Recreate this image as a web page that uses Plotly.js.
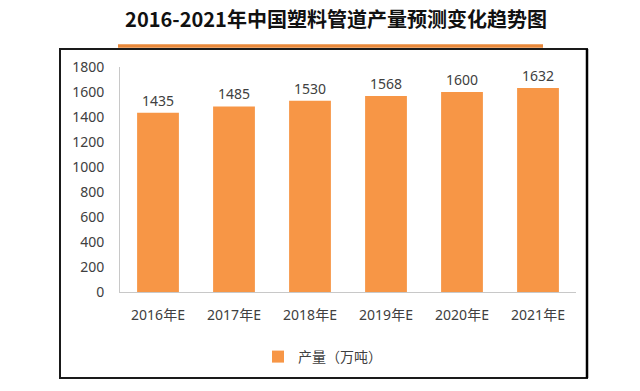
<!DOCTYPE html>
<html>
<head>
<meta charset="utf-8">
<script src="https://cdn.plot.ly/plotly-3.0.1.min.js"></script>
<style>html,body{margin:0;padding:0;background:#fff;overflow:hidden;}#chart{width:640px;height:391px;}</style>
</head>
<body>
<div id="chart"></div>
<script>
var categories = ["2016年E", "2017年E", "2018年E", "2019年E", "2020年E", "2021年E"];
var output = [1435, 1485, 1530, 1568, 1600, 1632];
var seriesName = "产量（万吨）";
var yTicks = [0, 200, 400, 600, 800, 1000, 1200, 1400, 1600, 1800];

var FONT = "Noto Sans, Noto Sans CJK SC, sans-serif";
var TXT = "#404040";

var trace = {
  type: "bar",
  x: categories,
  y: output,
  name: seriesName,
  marker: {color: "#F79646"},
  text: output.map(String),
  textposition: "outside",
  textfont: {family: FONT, size: 14, color: TXT},
  cliponaxis: false,
  hoverinfo: "none"
};

var bx0 = (60-120)/456, bx1 = (587-120)/456, by0 = (292-378)/225, by1 = (292-49)/225;

var layout = {
  width: 640, height: 391,
  margin: {l: 120, r: 64, t: 67, b: 99, pad: 0},
  paper_bgcolor: "#ffffff", plot_bgcolor: "#ffffff",
  font: {family: FONT, size: 14, color: TXT},
  bargap: 0.45,
  showlegend: true,
  title: {
    text: "<b>2016-2021年中国塑料管道产量预测变化趋势图</b>",
    font: {family: "Noto Sans CJK SC, sans-serif", size: 20, color: "#111111"},
    x: 336/640, xanchor: "center", xref: "container",
    y: 1 - 20/391, yanchor: "middle", yref: "container"
  },
  xaxis: {
    type: "category",
    showgrid: false, zeroline: false,
    showline: true, linecolor: "#c8c8c8", linewidth: 1,
    ticks: "", ticklabelstandoff: 10,
    tickfont: {family: FONT, size: 14, color: TXT}
  },
  yaxis: {
    range: [0, 1800],
    tickvals: yTicks,
    ticktext: yTicks.map(String),
    showgrid: false, zeroline: false,
    showline: true, linecolor: "#c8c8c8", linewidth: 1,
    ticks: "", ticklabelstandoff: 12,
    tickfont: {family: FONT, size: 14, color: TXT}
  },
  legend: {
    orientation: "h",
    x: (258-120)/456, xanchor: "left",
    y: (292-357)/225, yanchor: "middle",
    font: {family: "Noto Sans CJK SC, sans-serif", size: 14, color: TXT},
    itemwidth: 30
  },
  shapes: [
    {type: "rect", xref: "paper", yref: "paper", x0: bx0, x1: bx1, y0: by0, y1: by1,
     line: {color: "#1a1a1a", width: 2}, fillcolor: "rgba(0,0,0,0)", layer: "above"},
    {type: "line", xref: "paper", yref: "paper", x0: bx1, x1: bx1, y0: by0, y1: by1,
     line: {color: "#000000", width: 2.5}, layer: "above"},
    {type: "line", xref: "paper", yref: "paper",
     x0: (118-120)/456, x1: (543-120)/456, y0: (292-46)/225, y1: (292-46)/225,
     line: {color: "#E8883A", width: 3.5}}
  ]
};

Plotly.newPlot("chart", [trace], layout, {displayModeBar: false, staticPlot: true});
</script>
</body>
</html>
